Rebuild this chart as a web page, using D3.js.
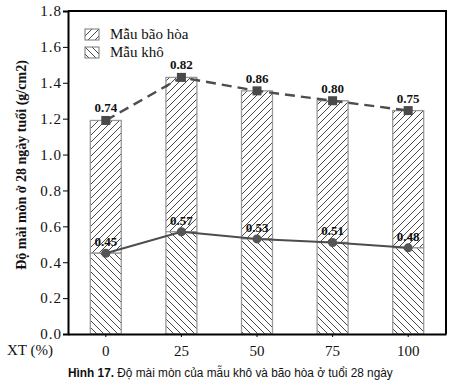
<!DOCTYPE html>
<html lang="vi">
<head>
<meta charset="utf-8">
<script src="https://cdn.jsdelivr.net/npm/d3@7/dist/d3.min.js"></script>
<style>
  body { margin: 0; background: #fff; }
  svg { display: block; }
</style>
</head>
<body>
<svg id="chart" width="450" height="384"></svg>
<script>
  // data
  var categories = ['0', '25', '50', '75', '100'];
  var dryValues = [0.45, 0.57, 0.53, 0.51, 0.48];          // Mẫu khô
  var saturatedValues = [1.19, 1.43, 1.355, 1.30, 1.245];  // Mẫu bão hòa (bar top)
  var dryLabels = ['0.45', '0.57', '0.53', '0.51', '0.48'];
  var saturatedLabels = ['0.74', '0.82', '0.86', '0.80', '0.75'];
  var yTicks = [0, 0.2, 0.4, 0.6, 0.8, 1.0, 1.2, 1.4, 1.6, 1.8];

  var SERIF = '"Liberation Serif", "DejaVu Serif", serif';
  var margin = { top: 11, left: 68, bottom: 50, right: 4 };
  var W = 450, H = 384;
  var width = W - margin.left - margin.right;
  var height = H - margin.top - margin.bottom;

  var svg = d3.select('#chart');

  // hatch patterns
  var defs = svg.append('defs');
  function hatch(id, dir) {
    var p = defs.append('pattern')
      .attr('id', id)
      .attr('patternUnits', 'userSpaceOnUse')
      .attr('width', 7).attr('height', 7);
    p.append('rect').attr('width', 7).attr('height', 7).attr('fill', '#fff');
    var d = dir > 0
      ? 'M-1,1 l2,-2 M0,7 l7,-7 M6,8 l2,-2'
      : 'M-1,6 l2,2 M0,0 l7,7 M6,-1 l2,2';
    p.append('path').attr('d', d).attr('stroke', '#333').attr('stroke-width', 0.9);
  }
  hatch('hatchSat', 1);
  hatch('hatchDry', -1);

  var g = svg.append('g')
    .attr('transform', 'translate(' + margin.left + ',' + margin.top + ')');

  var x = d3.scaleBand()
    .domain(categories)
    .range([0, width])
    .paddingInner(0.59)
    .paddingOuter(0.295);

  var y = d3.scaleLinear()
    .domain([0, 1.8])
    .range([height, 0]);

  var rows = categories.map(function (c, i) {
    return { cat: c, dry: dryValues[i], sat: saturatedValues[i], dl: dryLabels[i], sl: saturatedLabels[i] };
  });

  // saturated part (top)
  g.selectAll('.bar-sat')
    .data(rows)
    .enter().append('rect')
    .attr('class', 'bar-sat')
    .attr('x', function (d) { return x(d.cat); })
    .attr('y', function (d) { return y(d.sat); })
    .attr('width', x.bandwidth())
    .attr('height', function (d) { return y(d.dry) - y(d.sat); })
    .attr('fill', 'url(#hatchSat)')
    .attr('stroke', '#9a9a9a')
    .attr('stroke-width', 1.3);

  // dry part (bottom)
  g.selectAll('.bar-dry')
    .data(rows)
    .enter().append('rect')
    .attr('class', 'bar-dry')
    .attr('x', function (d) { return x(d.cat); })
    .attr('y', function (d) { return y(d.dry); })
    .attr('width', x.bandwidth())
    .attr('height', function (d) { return height - y(d.dry); })
    .attr('fill', 'url(#hatchDry)')
    .attr('stroke', '#9a9a9a')
    .attr('stroke-width', 1.3);

  var cx = function (d) { return x(d.cat) + x.bandwidth() / 2; };

  // lines
  g.append('path')
    .datum(rows)
    .attr('fill', 'none')
    .attr('stroke', '#4d4d4d')
    .attr('stroke-width', 2.4)
    .attr('stroke-dasharray', '10,6')
    .attr('d', d3.line().x(cx).y(function (d) { return y(d.sat); }));

  g.append('path')
    .datum(rows)
    .attr('fill', 'none')
    .attr('stroke', '#4d4d4d')
    .attr('stroke-width', 2)
    .attr('d', d3.line().x(cx).y(function (d) { return y(d.dry); }));

  // markers
  g.selectAll('.sq')
    .data(rows)
    .enter().append('rect')
    .attr('class', 'sq')
    .attr('x', function (d) { return cx(d) - 4.5; })
    .attr('y', function (d) { return y(d.sat) - 4.5; })
    .attr('width', 9).attr('height', 9)
    .attr('fill', '#4a4a4a');

  g.selectAll('.dot')
    .data(rows)
    .enter().append('circle')
    .attr('class', 'dot')
    .attr('cx', cx)
    .attr('cy', function (d) { return y(d.dry); })
    .attr('r', 4.5)
    .attr('fill', '#555');

  // value labels
  g.selectAll('.lab-sat')
    .data(rows)
    .enter().append('text')
    .attr('x', cx)
    .attr('y', function (d) { return y(d.sat) - 8; })
    .attr('text-anchor', 'middle')
    .attr('font-family', SERIF)
    .attr('font-size', 13)
    .attr('font-weight', 'bold')
    .attr('fill', '#111')
    .text(function (d) { return d.sl; });

  g.selectAll('.lab-dry')
    .data(rows)
    .enter().append('text')
    .attr('x', cx)
    .attr('y', function (d) { return y(d.dry) - 7; })
    .attr('text-anchor', 'middle')
    .attr('font-family', SERIF)
    .attr('font-size', 13)
    .attr('font-weight', 'bold')
    .attr('fill', '#111')
    .text(function (d) { return d.dl; });

  // frame (top/right)
  g.append('path')
    .attr('d', 'M0,0H' + width + 'V' + height)
    .attr('fill', 'none')
    .attr('stroke', '#000')
    .attr('stroke-width', 2);

  // axes
  var yAxis = g.append('g')
    .call(d3.axisLeft(y).tickValues(yTicks).tickSize(5).tickPadding(1).tickFormat(d3.format('.1f')))
    .attr('font-family', SERIF)
    .attr('font-size', 15);
  yAxis.select('.domain').attr('stroke-width', 2);
  yAxis.selectAll('text')
    .attr('letter-spacing', 1)
    .attr('fill', '#111');

  var xAxis = g.append('g')
    .attr('transform', 'translate(0,' + height + ')')
    .call(d3.axisBottom(x).tickSize(3).tickPadding(8).tickSizeOuter(0))
    .attr('font-family', SERIF)
    .attr('font-size', 15);
  xAxis.select('.domain').attr('stroke-width', 2.2);
  xAxis.selectAll('text').attr('fill', '#111');

  svg.append('text')
    .attr('x', 30).attr('y', 355)
    .attr('text-anchor', 'middle')
    .attr('font-family', SERIF)
    .attr('font-size', 15)
    .attr('fill', '#111')
    .text('XT (%)');

  // y title
  svg.append('text')
    .attr('transform', 'translate(26,165) rotate(-90)')
    .attr('text-anchor', 'middle')
    .attr('font-family', SERIF)
    .attr('font-size', 14)
    .attr('font-weight', 'bold')
    .attr('fill', '#111')
    .text('Độ mài mòn ở 28 ngày tuổi (g/cm2)');

  // legend
  var legendItems = [
    { name: 'Mẫu bão hòa', fill: 'url(#hatchSat)' },
    { name: 'Mẫu khô', fill: 'url(#hatchDry)' }
  ];
  var legend = svg.append('g').attr('transform', 'translate(85,29)');
  legendItems.forEach(function (it, i) {
    var row = legend.append('g').attr('transform', 'translate(0,' + (i * 18) + ')');
    row.append('rect')
      .attr('width', 14).attr('height', 11)
      .attr('fill', it.fill)
      .attr('stroke', '#777')
      .attr('stroke-width', 1);
    row.append('text')
      .attr('x', 25).attr('y', 10)
      .attr('font-family', SERIF)
      .attr('font-size', 15)
      .attr('fill', '#111')
      .text(it.name);
  });

  // caption, squeezed horizontally to look like a condensed face
  var capG = svg.append('g');
  var cap = capG.append('text')
    .attr('x', 0).attr('y', 0)
    .attr('font-family', '"Liberation Sans", sans-serif')
    .attr('font-size', 13.5)
    .attr('fill', '#111');
  cap.append('tspan').attr('font-weight', 'bold').text('Hình 17. ');
  cap.append('tspan').text('Độ mài mòn của mẫu khô và bão hòa ở tuổi 28 ngày');
  var natural = cap.node().getComputedTextLength();
  capG.attr('transform', 'translate(68,377) scale(' + (325 / natural) + ',1)');
</script>
</body>
</html>
